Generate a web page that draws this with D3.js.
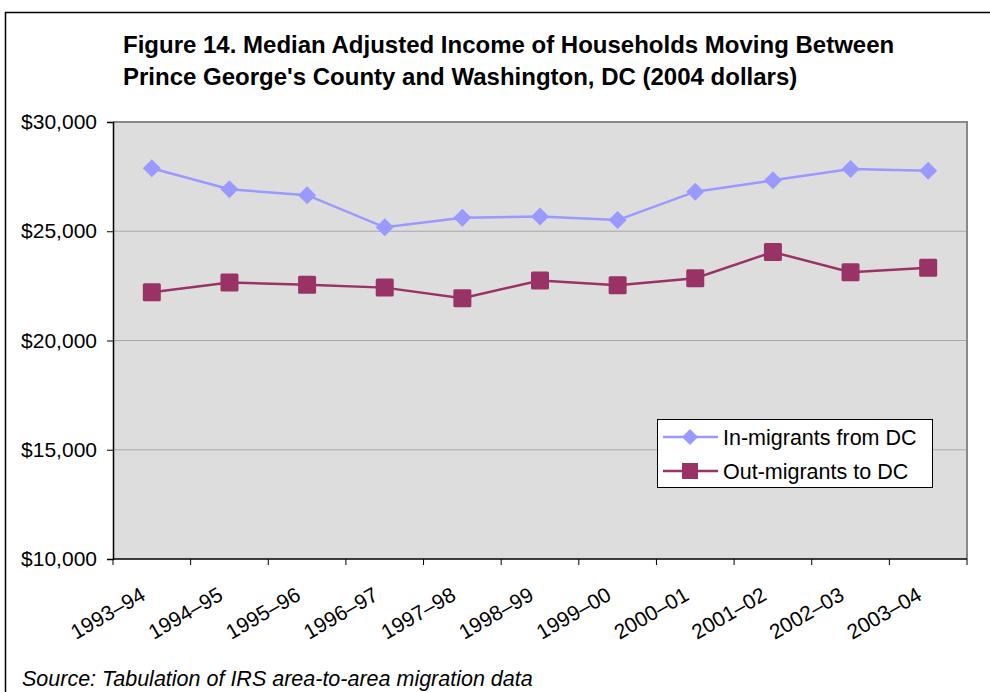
<!DOCTYPE html>
<html><head><meta charset="utf-8">
<script src="https://cdn.jsdelivr.net/npm/d3@7/dist/d3.min.js"></script>
<style>
body{margin:0;background:#fff;}
svg{display:block;font-family:"Liberation Sans",Arial,sans-serif;}
</style></head>
<body>
<svg id="chart" width="990" height="692"></svg>
<script>
const categories = ["1993–94","1994–95","1995–96","1996–97","1997–98","1998–99","1999–00","2000–01","2001–02","2002–03","2003–04"];
const inMigrants = [27880,26920,26650,25180,25620,25670,25510,26810,27330,27850,27770];
const outMigrants = [22210,22650,22550,22420,21930,22750,22530,22850,24050,23120,23330];
const yTicks = [10000,15000,20000,25000,30000];
const titleLines = ["Figure 14. Median Adjusted Income of Households Moving Between","Prince George's County and Washington, DC (2004 dollars)"];
const seriesNames = ["In-migrants from DC","Out-migrants to DC"];
const sourceText = "Source: Tabulation of IRS area-to-area migration data";

const svg = d3.select("#chart");
// outer frame
svg.append("rect").attr("x",5.5).attr("y",12.5).attr("width",1000).attr("height",700)
  .attr("fill","none").attr("stroke","#000").attr("stroke-width",1.5);

const L=113,R=967,T=122,B=559;
const x = d3.scaleBand().domain(categories).range([L,R]);
const y = d3.scaleLinear().domain([10000,30000]).range([B,T]);

// title
svg.append("g").selectAll("text").data(titleLines).join("text")
  .attr("x",123).attr("y",(d,i)=>53+i*32)
  .attr("font-weight","bold").attr("font-size",24).attr("fill","#000").text(d=>d);

// plot bg
svg.append("rect").attr("x",L).attr("y",T).attr("width",R-L).attr("height",B-T).attr("fill","#DDDDDD");
// grid
svg.append("g").selectAll("line").data(yTicks.filter(d=>d>10000&&d<30000)).join("line")
  .attr("x1",L).attr("x2",R).attr("y1",d=>y(d)).attr("y2",d=>y(d))
  .attr("stroke","#A8A8A8").attr("stroke-width",1.2);
// top & right border
svg.append("path").attr("d",`M${L},${T}H${R}V${B}`).attr("fill","none").attr("stroke","#888").attr("stroke-width",2);

// y axis
const yAxis = svg.append("g").attr("transform",`translate(${L},0)`)
  .call(d3.axisLeft(y).tickValues(yTicks).tickSize(6).tickPadding(10).tickFormat(d=>"$"+d3.format(",")(d)));
yAxis.select(".domain").attr("stroke","#000").attr("stroke-width",1.5);
yAxis.selectAll(".tick line").attr("stroke","#000");
yAxis.selectAll("text").attr("font-size",21).attr("fill","#000").attr("font-family","Liberation Sans, Arial, sans-serif");

// x axis with ticks at band boundaries
const xAxisG = svg.append("g").attr("transform",`translate(0,${B})`);
xAxisG.append("line").attr("x1",L).attr("x2",R).attr("stroke","#000").attr("stroke-width",1.5);
const bounds = categories.map(c=>x(c)).concat([R]);
xAxisG.selectAll("line.tk").data(bounds).join("line").attr("class","tk")
  .attr("x1",d=>d).attr("x2",d=>d).attr("y1",0).attr("y2",6).attr("stroke","#000");
xAxisG.selectAll("text").data(categories).join("text")
  .attr("transform",d=>`translate(${x(d)+x.bandwidth()/2-5},${40}) rotate(-30)`)
  .attr("text-anchor","end").attr("font-size",21).attr("fill","#000").text(d=>d);

// lines
const cx = d=>x(d)+x.bandwidth()/2;
const line = d3.line().x((d,i)=>cx(categories[i])).y(d=>y(d));
svg.append("path").datum(inMigrants).attr("d",line).attr("fill","none").attr("stroke","#9999FF").attr("stroke-width",2.5);
svg.append("path").datum(outMigrants).attr("d",line).attr("fill","none").attr("stroke","#993366").attr("stroke-width",2.5);

const diamond = (s)=>`M0,${-s}L${s},0L0,${s}L${-s},0Z`;
svg.append("g").selectAll("path").data(inMigrants).join("path")
  .attr("transform",(d,i)=>`translate(${cx(categories[i])},${y(d)})`)
  .attr("d",diamond(9)).attr("fill","#9999FF");
svg.append("g").selectAll("rect").data(outMigrants).join("rect")
  .attr("x",(d,i)=>cx(categories[i])-9).attr("y",d=>y(d)-9).attr("width",18).attr("height",18).attr("rx",1.5)
  .attr("fill","#993366");

// legend
const lg = svg.append("g");
lg.append("rect").attr("x",657.5).attr("y",419.5).attr("width",275).attr("height",68).attr("fill","#fff").attr("stroke","#000").attr("stroke-width",1);
const lgRows=[{name:seriesNames[0],c:"#9999FF",shape:"d",yy:437},{name:seriesNames[1],c:"#993366",shape:"s",yy:471}];
lgRows.forEach(r=>{
  lg.append("line").attr("x1",663).attr("x2",718).attr("y1",r.yy).attr("y2",r.yy).attr("stroke",r.c).attr("stroke-width",2.5);
  if(r.shape==="d") lg.append("path").attr("transform",`translate(690,${r.yy})`).attr("d",diamond(8)).attr("fill",r.c);
  else lg.append("rect").attr("x",682).attr("y",r.yy-8).attr("width",16).attr("height",16).attr("fill",r.c);
  lg.append("text").attr("x",723).attr("y",r.yy+7.5).attr("font-size",21.5).attr("fill","#000").text(r.name);
});

// source
svg.append("text").attr("x",22).attr("y",686).attr("font-style","italic").attr("font-size",21.5).attr("fill","#000").text(sourceText);
</script>
</body></html>
